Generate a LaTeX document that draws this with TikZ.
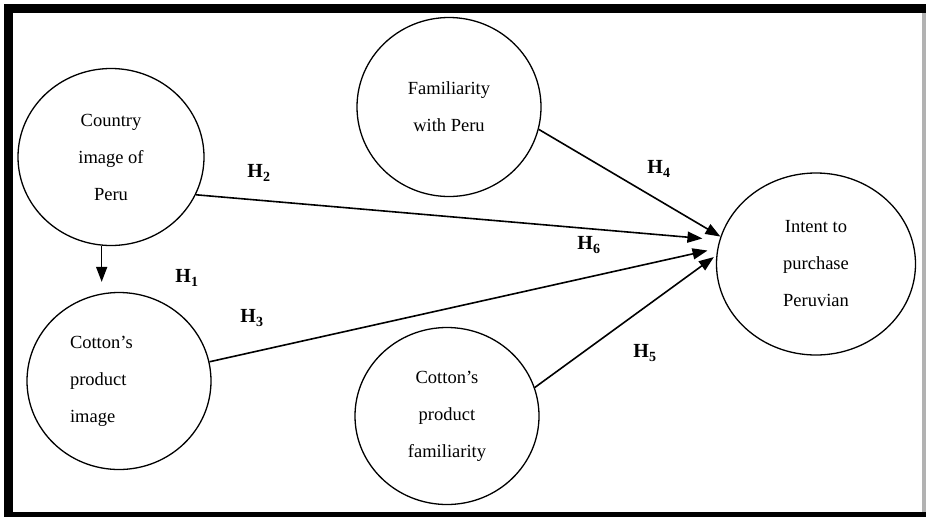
\documentclass[tikz,border=0pt]{standalone}
\usepackage{fontspec}
\setmainfont{Liberation Serif}
\usetikzlibrary{positioning, calc, arrows.meta, shapes.geometric}

\begin{document}
\begin{tikzpicture}[
    x=1pt, y=-1pt,
    construct/.style={ellipse, draw, line width=1.3pt, inner sep=0pt, minimum width=184pt, minimum height=177pt, align=center, font=\fontsize{18.5}{37}\selectfont},
    path_arrow/.style={-{Triangle[length=15pt, width=11pt]}, line width=1.6pt},
    hyp_label/.style={font=\fontsize{20}{22}\selectfont\bfseries, inner sep=0pt}
]
    % Frame
    \useasboundingbox (0,0) rectangle (926,517);
    \fill[black] (4,4) rectangle (926,517);
    \fill[gray!60] (922,13) rectangle (926,512);
    \fill[white] (13,13) rectangle (922,512);

    % Constructs
    \node[construct, minimum width=186pt] (country) at (111,157) {Country\\image of\\Peru};
    \node[construct, text width=98pt, align=left] (cottonimage) at (119,381) {Cotton’s\\product\\image};
    \node[construct, minimum height=179pt] (familiarity) at (449,107) {Familiarity\\with Peru};
    \node[construct] (cottonfam) at (447,416) {Cotton’s\\product\\familiarity};
    \node[construct, minimum width=199pt, minimum height=182pt] (intent) at (816,264) {Intent to\\purchase\\Peruvian};

    % Paths
    \draw[path_arrow, shorten >=10pt] (country.-96) -- (country.-96 |- cottonimage.north);
    \draw[path_arrow, shorten >=17pt] (country.-24) -- (intent.166);
    \draw[path_arrow] (familiarity.-14) -- (intent.164);
    \draw[path_arrow, shorten >=10pt] (cottonimage.12) -- (intent.171);
    \draw[path_arrow, shorten >=3pt] (cottonfam.18) -- (intent.175);

    % Hypotheses
    \node[hyp_label] (hone) at (187,278) {H\textsubscript{1}};
    \node[hyp_label] (htwo) at (259,173) {H\textsubscript{2}};
    \node[hyp_label] (hthree) at (252,318) {H\textsubscript{3}};
    \node[hyp_label] (hfour) at (659,169) {H\textsubscript{4}};
    \node[hyp_label] (hfive) at (645,353) {H\textsubscript{5}};
    \node[hyp_label] (hsix) at (589,245) {H\textsubscript{6}};
\end{tikzpicture}
\end{document}
